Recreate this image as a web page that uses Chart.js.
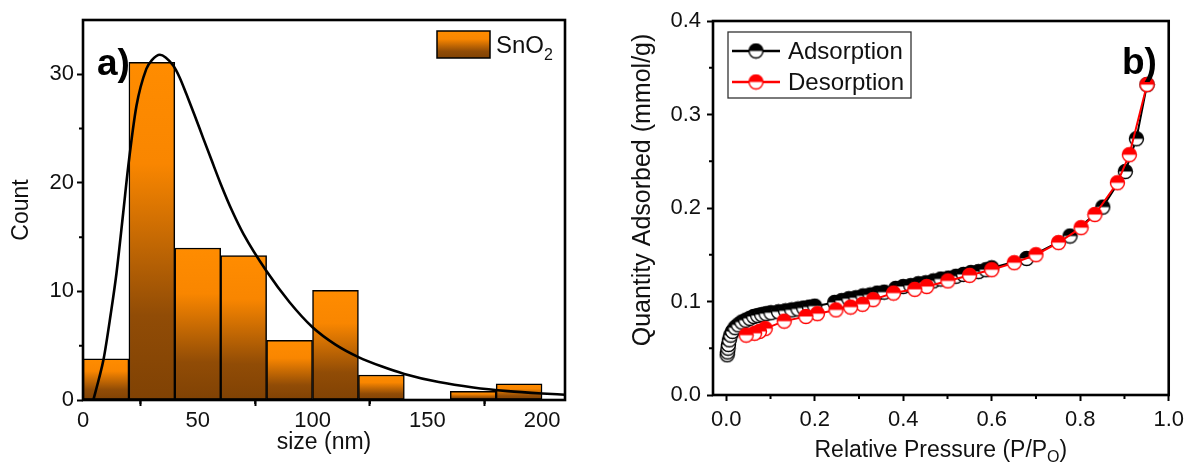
<!DOCTYPE html>
<html>
<head>
<meta charset="utf-8">
<script src="https://cdn.jsdelivr.net/npm/chart.js@4.4.1/dist/chart.umd.min.js"></script>
<style>
  html, body { margin: 0; padding: 0; background: #fff; }
  #wrap { position: relative; width: 1190px; height: 464px; overflow: hidden; }
  canvas { position: absolute; top: 0; }
  #sizeChart { left: 0; }
  #betChart { left: 590px; }
</style>
</head>
<body>
<div id="wrap">
  <canvas id="sizeChart" width="590" height="464"></canvas>
  <canvas id="betChart" width="600" height="464"></canvas>
</div>
<script>
// ===== Panel a: particle size histogram =====
const binCenters = [10, 30, 50, 70, 90, 110, 130, 150, 170, 190];
const binCounts  = [3.8, 31.1, 14.0, 13.3, 5.5, 10.1, 2.3, 0, 0.8, 1.5];

// log-normal fit curve, traced point by point
const fitSize  = [4.5, 7, 9, 12, 14.6, 17.5, 19.7, 23.3, 27.6, 30, 33.5, 36, 39.3, 42, 45, 48.5, 52.4, 56, 60, 65, 70, 80, 90, 100, 110, 120, 130, 140, 155, 170, 185, 200, 210];
const fitCount = [0, 2.0, 3.8, 7.8, 11.7, 17.2, 21.5, 27.1, 30.5, 31.3, 31.8, 31.55, 30.8, 29.75, 28.2, 26.3, 24.1, 22.1, 19.9, 17.4, 15.25, 11.85, 9.0, 6.7, 5.1, 3.95, 3.1, 2.4, 1.65, 1.15, 0.82, 0.6, 0.49];

const sizeTicks  = [0, 50, 100, 150, 200];
const sizeMinor  = [25, 75, 125, 175];
const countTicks = [0, 10, 20, 30];
const countMinor = [5, 15, 25];

// ===== Panel b: N2 sorption isotherm =====
const adsP = [0.002, 0.003, 0.004, 0.005, 0.007, 0.010, 0.014, 0.020, 0.027, 0.035, 0.044, 0.053, 0.062, 0.071, 0.080, 0.090, 0.101, 0.118, 0.134, 0.148, 0.162, 0.175, 0.188, 0.200,
              0.245, 0.261, 0.277, 0.293, 0.309, 0.325, 0.341, 0.357, 0.383, 0.400, 0.417, 0.434, 0.451, 0.468, 0.485, 0.502, 0.519, 0.536, 0.553, 0.570, 0.587, 0.600,
              0.679, 0.777, 0.851, 0.902, 0.927, 0.951];
const adsQ = [0.043, 0.046, 0.050, 0.054, 0.059, 0.064, 0.068, 0.072, 0.075, 0.078, 0.080, 0.082, 0.084, 0.085, 0.086, 0.087, 0.088, 0.089, 0.090, 0.091, 0.092, 0.093, 0.094, 0.095,
              0.099, 0.101, 0.103, 0.104, 0.106, 0.107, 0.109, 0.110, 0.114, 0.116, 0.117, 0.119, 0.120, 0.122, 0.124, 0.125, 0.127, 0.129, 0.131, 0.132, 0.134, 0.136,
              0.146, 0.170, 0.201, 0.239, 0.274, 0.332];
const desP = [0.951, 0.911, 0.884, 0.833, 0.802, 0.751, 0.700, 0.651, 0.600, 0.550, 0.501, 0.453, 0.426, 0.378, 0.332, 0.308, 0.281, 0.248, 0.206, 0.180, 0.131, 0.088, 0.075, 0.064, 0.045];
const desQ = [0.332, 0.257, 0.227, 0.193, 0.179, 0.163, 0.150, 0.1415, 0.134, 0.128, 0.122, 0.116, 0.113, 0.109, 0.102, 0.097, 0.094, 0.091, 0.087, 0.084, 0.079, 0.071, 0.068, 0.066, 0.064];

const pressureTicks = [0, 0.2, 0.4, 0.6, 0.8, 1.0];
const pressureMinor = [0.1, 0.3, 0.5, 0.7, 0.9];
const quantityTicks = [0, 0.1, 0.2, 0.3, 0.4];
const quantityMinor = [0.05, 0.15, 0.25, 0.35];

const FONT = '"Liberation Sans", Arial, sans-serif';

// orange-to-brown fill running down each bar
function barGradient(ctx, top, bottom) {
  const g = ctx.createLinearGradient(0, top, 0, bottom);
  g.addColorStop(0, '#ff8c00');
  g.addColorStop(0.3, '#f98600');
  g.addColorStop(0.75, '#914c06');
  g.addColorStop(1, '#804204');
  return g;
}

function barFill(context) {
  const chart = context.chart;
  if (!chart.chartArea || context.type !== 'data') return '#ff8c00';
  const y = chart.scales.y;
  const top = y.getPixelForValue(context.raw.y);
  const base = y.getPixelForValue(0);
  if (base - top < 1) return '#ff8c00';
  return barGradient(chart.ctx, top, base);
}

// half-filled circle marker (top half coloured, bottom half white)
function halfMarker(color, r) {
  const c = document.createElement('canvas');
  const s = Math.ceil(r * 2 + 3);
  c.width = c.height = s;
  const g = c.getContext('2d');
  const m = s / 2;
  g.fillStyle = '#fff';
  g.beginPath(); g.arc(m, m, r, 0, Math.PI * 2); g.fill();
  g.fillStyle = color;
  g.beginPath(); g.arc(m, m, r, Math.PI, 0); g.closePath(); g.fill();
  g.strokeStyle = color;
  g.lineWidth = 1.4;
  g.beginPath(); g.arc(m, m, r, 0, Math.PI * 2); g.stroke();
  return c;
}

// frame box + short minor ticks
const frameTicks = {
  id: 'frameTicks',
  afterDatasetsDraw(chart, args, opts) {
    const { ctx, chartArea: a, scales: { x, y } } = chart;
    ctx.save();
    ctx.strokeStyle = '#000';
    ctx.lineWidth = 2;
    ctx.beginPath();
    (opts.xMinor || []).forEach(v => {
      const px = x.getPixelForValue(v);
      ctx.moveTo(px, a.bottom); ctx.lineTo(px, a.bottom + 4);
    });
    (opts.yMinor || []).forEach(v => {
      const py = y.getPixelForValue(v);
      ctx.moveTo(a.left, py); ctx.lineTo(a.left - 4, py);
    });
    ctx.stroke();
    ctx.lineWidth = 2.6;
    ctx.strokeRect(a.left, a.top, a.right - a.left, a.bottom - a.top);
    if (opts.panel) {
      ctx.fillStyle = '#000';
      ctx.font = 'bold 37px ' + FONT;
      ctx.textBaseline = 'alphabetic';
      ctx.fillText(opts.panel.text, opts.panel.x, opts.panel.y);
    }
    ctx.restore();
  }
};

function majorGrid() {
  return { drawOnChartArea: false, drawTicks: true, tickLength: 6, tickWidth: 2, tickColor: '#000' };
}

// ----- size histogram -----
const sizeLegend = {
  id: 'sizeLegend',
  afterDraw(chart) {
    const { ctx, chartArea: a } = chart;
    const left = a.right - 128, top = a.top + 11;
    ctx.save();
    ctx.fillStyle = barGradient(ctx, top, top + 27);
    ctx.fillRect(left, top, 53, 27);
    ctx.strokeStyle = '#000';
    ctx.lineWidth = 1.5;
    ctx.strokeRect(left, top, 53, 27);
    ctx.fillStyle = '#111';
    ctx.textBaseline = 'alphabetic';
    ctx.font = '24px ' + FONT;
    ctx.fillText('SnO', left + 59, top + 22);
    const w = ctx.measureText('SnO').width;
    ctx.font = '16px ' + FONT;
    ctx.fillText('2', left + 59 + w, top + 29);
    ctx.restore();
  }
};

new Chart(document.getElementById('sizeChart'), {
  type: 'bar',
  data: {
    datasets: [
      {
        type: 'line',
        label: 'fit',
        data: fitSize.map((x, i) => ({ x, y: fitCount[i] })),
        borderColor: '#000',
        borderWidth: 2.6,
        pointRadius: 0,
        cubicInterpolationMode: 'monotone',
        fill: false,
        order: 0
      },
      {
        type: 'bar',
        label: 'SnO2',
        data: binCenters.map((x, i) => ({ x, y: binCounts[i] })),
        backgroundColor: barFill,
        borderColor: '#000',
        borderWidth: 1.5,
        borderSkipped: false,
        barPercentage: 1,
        categoryPercentage: 1,
        order: 1
      }
    ]
  },
  options: {
    responsive: false,
    animation: false,
    events: [],
    layout: { padding: { top: 20, right: 25, left: 0, bottom: 0 } },
    plugins: {
      legend: { display: false },
      tooltip: { enabled: false },
      frameTicks: { xMinor: sizeMinor, yMinor: countMinor, panel: { text: 'a)', x: 97, y: 75 } }
    },
    scales: {
      x: {
        type: 'linear',
        min: 0,
        max: 210,
        offset: false,
        afterBuildTicks: (axis) => { axis.ticks = sizeTicks.map(v => ({ value: v })); },
        afterFit: (axis) => { axis.height = 64; },
        grid: majorGrid(),
        border: { display: false },
        ticks: { color: '#111', font: { family: FONT, size: 22 }, padding: 2, maxRotation: 0 },
        title: { display: true, text: 'size (nm)', color: '#111', font: { family: FONT, size: 23 }, padding: { top: 0, bottom: 8 } }
      },
      y: {
        min: 0,
        max: 35,
        afterBuildTicks: (axis) => { axis.ticks = countTicks.map(v => ({ value: v })); },
        afterFit: (axis) => { axis.width = 83; },
        grid: majorGrid(),
        border: { display: false },
        ticks: { color: '#111', font: { family: FONT, size: 22 }, padding: 3 },
        title: { display: true, text: 'Count', color: '#111', font: { family: FONT, size: 23 }, padding: { top: 8, bottom: 0 } }
      }
    }
  },
  plugins: [frameTicks, sizeLegend]
});

// ----- sorption isotherm -----
const isoLegend = {
  id: 'isoLegend',
  afterDraw(chart) {
    const { ctx, chartArea: a } = chart;
    const left = a.left + 15, top = a.top + 11;
    ctx.save();
    ctx.strokeStyle = '#333';
    ctx.lineWidth = 1.3;
    ctx.strokeRect(left, top, 183, 66);
    ctx.font = '24px ' + FONT;
    ctx.textBaseline = 'middle';
    chart.data.datasets
      .slice()
      .sort((p, q) => q.order - p.order)
      .forEach((ds, i) => {
        const cy = top + 19 + i * 31;
        ctx.strokeStyle = ds.borderColor;
        ctx.lineWidth = 2.6;
        ctx.beginPath();
        ctx.moveTo(left + 4, cy); ctx.lineTo(left + 52, cy);
        ctx.stroke();
        const img = ds.pointStyle;
        ctx.drawImage(img, left + 28 - img.width / 2, cy - img.height / 2);
        ctx.fillStyle = '#111';
        ctx.fillText(ds.label, left + 60, cy + 1);
      });
    ctx.restore();
  }
};

// axis titles: P/Po needs a subscript, the y title sits a little above centre
const isoTitles = {
  id: 'isoTitles',
  afterDraw(chart) {
    const { ctx, chartArea: a } = chart;
    const main = 'Relative Pressure (P/P';
    ctx.save();
    ctx.fillStyle = '#111';
    ctx.textBaseline = 'alphabetic';
    ctx.font = '23px ' + FONT;
    const w1 = ctx.measureText(main).width;
    const w3 = ctx.measureText(')').width;
    ctx.font = '16px ' + FONT;
    const w2 = ctx.measureText('O').width;
    let x = (a.left + a.right) / 2 - (w1 + w2 + w3) / 2;
    const base = 457;
    ctx.font = '23px ' + FONT;
    ctx.fillText(main, x, base);
    x += w1;
    ctx.font = '16px ' + FONT;
    ctx.fillText('O', x, base + 5);
    x += w2;
    ctx.font = '23px ' + FONT;
    ctx.fillText(')', x, base);

    ctx.translate(53, 190);
    ctx.rotate(-Math.PI / 2);
    ctx.font = '25px ' + FONT;
    ctx.textAlign = 'center';
    ctx.textBaseline = 'middle';
    ctx.fillText('Quantity Adsorbed (mmol/g)', 0, 0);
    ctx.restore();
  }
};

const adsMarker = halfMarker('#000', 7);
const desMarker = halfMarker('#ff0000', 7);

new Chart(document.getElementById('betChart'), {
  type: 'line',
  data: {
    datasets: [
      {
        label: 'Adsorption',
        data: adsP.map((x, i) => ({ x, y: adsQ[i] })),
        borderColor: '#000',
        borderWidth: 2,
        pointStyle: adsMarker,
        pointRadius: 7,
        tension: 0,
        order: 1
      },
      {
        label: 'Desorption',
        data: desP.map((x, i) => ({ x, y: desQ[i] })),
        borderColor: '#ff0000',
        borderWidth: 2,
        pointStyle: desMarker,
        pointRadius: 7,
        tension: 0,
        order: 0
      }
    ]
  },
  options: {
    responsive: false,
    animation: false,
    events: [],
    layout: { padding: { top: 21, right: 19, left: 0, bottom: 0 } },
    plugins: {
      legend: { display: false },
      tooltip: { enabled: false },
      frameTicks: { xMinor: pressureMinor, yMinor: quantityMinor, panel: { text: 'b)', x: 532, y: 74 } }
    },
    scales: {
      x: {
        type: 'linear',
        min: -0.03,
        max: 1.0,
        afterBuildTicks: (axis) => { axis.ticks = pressureTicks.map(v => ({ value: v })); },
        afterFit: (axis) => { axis.height = 69; },
        grid: majorGrid(),
        border: { display: false },
        ticks: { color: '#111', font: { family: FONT, size: 22 }, padding: 6, maxRotation: 0, callback: v => v.toFixed(1) }
      },
      y: {
        min: 0,
        max: 0.4,
        afterBuildTicks: (axis) => { axis.ticks = quantityTicks.map(v => ({ value: v })); },
        afterFit: (axis) => { axis.width = 123; },
        grid: majorGrid(),
        border: { display: false },
        ticks: { color: '#111', font: { family: FONT, size: 22 }, padding: 6, callback: v => v.toFixed(1) }
      }
    }
  },
  plugins: [frameTicks, isoLegend, isoTitles]
});
</script>
</body>
</html>
